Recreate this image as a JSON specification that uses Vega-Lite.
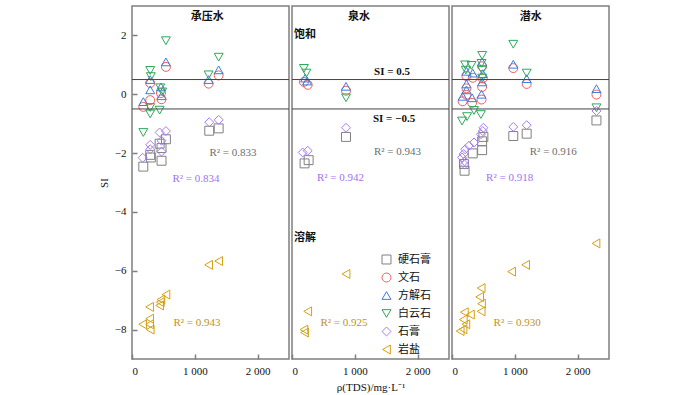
{
  "$schema": "https://vega.github.io/schema/vega-lite/v6.json",
  "padding": {"left": 97, "top": 5, "right": 0, "bottom": 0},
  "background": "white",
  "bounds": "flush",
  "datasets": {
    "p1": [
      {"m":"硬石膏","x":180,"y":-2.46},{"m":"硬石膏","x":290,"y":-2.06},{"m":"硬石膏","x":300,"y":-2.15},{"m":"硬石膏","x":440,"y":-1.68},{"m":"硬石膏","x":470,"y":-1.83},{"m":"硬石膏","x":470,"y":-2.26},{"m":"硬石膏","x":540,"y":-1.53},{"m":"硬石膏","x":1230,"y":-1.24},{"m":"硬石膏","x":1380,"y":-1.16},
      {"m":"文石","x":180,"y":-0.43},{"m":"文石","x":290,"y":0.38},{"m":"文石","x":290,"y":-0.2},{"m":"文石","x":460,"y":0.04},{"m":"文石","x":470,"y":-0.17},{"m":"文石","x":540,"y":0.93},{"m":"文石","x":1220,"y":0.36},{"m":"文石","x":1380,"y":0.64},
      {"m":"方解石","x":180,"y":-0.25},{"m":"方解石","x":290,"y":0.5},{"m":"方解石","x":290,"y":0.15},{"m":"方解石","x":460,"y":0.25},{"m":"方解石","x":470,"y":-0.05},{"m":"方解石","x":540,"y":1.1},{"m":"方解石","x":1220,"y":0.5},{"m":"方解石","x":1380,"y":0.83},
      {"m":"白云石","x":180,"y":-1.3},{"m":"白云石","x":290,"y":0.81},{"m":"白云石","x":300,"y":0.6},{"m":"白云石","x":290,"y":-0.45},{"m":"白云石","x":290,"y":-0.67},{"m":"白云石","x":440,"y":-0.54},{"m":"白云石","x":450,"y":0.22},{"m":"白云石","x":480,"y":0.08},{"m":"白云石","x":540,"y":1.82},{"m":"白云石","x":1220,"y":0.66},{"m":"白云石","x":1380,"y":1.26},
      {"m":"石膏","x":170,"y":-2.16},{"m":"石膏","x":290,"y":-1.72},{"m":"石膏","x":290,"y":-1.87},{"m":"石膏","x":440,"y":-1.3},{"m":"石膏","x":470,"y":-1.58},{"m":"石膏","x":470,"y":-1.95},{"m":"石膏","x":540,"y":-1.25},{"m":"石膏","x":1230,"y":-0.95},{"m":"石膏","x":1380,"y":-0.87},
      {"m":"岩盐","x":170,"y":-7.82},{"m":"岩盐","x":280,"y":-7.63},{"m":"岩盐","x":280,"y":-7.82},{"m":"岩盐","x":290,"y":-8.0},{"m":"岩盐","x":280,"y":-7.23},{"m":"岩盐","x":440,"y":-7.18},{"m":"岩盐","x":460,"y":-6.98},{"m":"岩盐","x":450,"y":-7.07},{"m":"岩盐","x":540,"y":-6.81},{"m":"岩盐","x":1220,"y":-5.8},{"m":"岩盐","x":1380,"y":-5.67}
    ],
    "p2": [
      {"m":"硬石膏","x":200,"y":-2.35},{"m":"硬石膏","x":265,"y":-2.24},{"m":"硬石膏","x":860,"y":-1.45},
      {"m":"文石","x":190,"y":0.42},{"m":"文石","x":250,"y":0.32},{"m":"文石","x":860,"y":0.12},
      {"m":"方解石","x":210,"y":0.55},{"m":"方解石","x":240,"y":0.45},{"m":"方解石","x":860,"y":0.27},
      {"m":"白云石","x":190,"y":0.88},{"m":"白云石","x":230,"y":0.72},{"m":"白云石","x":860,"y":-0.12},
      {"m":"石膏","x":170,"y":-1.98},{"m":"石膏","x":250,"y":-1.92},{"m":"石膏","x":860,"y":-1.14},
      {"m":"岩盐","x":190,"y":-8.0},{"m":"岩盐","x":200,"y":-8.1},{"m":"岩盐","x":250,"y":-7.38},{"m":"岩盐","x":860,"y":-6.11}
    ],
    "p3": [
      {"m":"硬石膏","x":200,"y":-2.6},{"m":"硬石膏","x":190,"y":-2.37},{"m":"硬石膏","x":330,"y":-2.01},{"m":"硬石膏","x":480,"y":-1.9},{"m":"硬石膏","x":480,"y":-1.6},{"m":"硬石膏","x":500,"y":-1.45},{"m":"硬石膏","x":976,"y":-1.42},{"m":"硬石膏","x":1189,"y":-1.34},{"m":"硬石膏","x":2300,"y":-0.89},
      {"m":"文石","x":170,"y":-0.24},{"m":"文石","x":230,"y":-0.02},{"m":"文石","x":230,"y":0.2},{"m":"文石","x":230,"y":0.62},{"m":"文石","x":320,"y":-0.29},{"m":"文石","x":330,"y":0.56},{"m":"文石","x":470,"y":-0.18},{"m":"文石","x":480,"y":0.25},{"m":"文石","x":480,"y":0.95},{"m":"文石","x":490,"y":0.54},{"m":"文石","x":976,"y":0.89},{"m":"文石","x":1189,"y":0.35},{"m":"文石","x":2300,"y":-0.01},
      {"m":"方解石","x":170,"y":-0.07},{"m":"方解石","x":230,"y":0.15},{"m":"方解石","x":230,"y":0.35},{"m":"方解石","x":230,"y":0.78},{"m":"方解石","x":320,"y":-0.12},{"m":"方解石","x":330,"y":0.72},{"m":"方解石","x":470,"y":0.0},{"m":"方解石","x":480,"y":0.42},{"m":"方解石","x":480,"y":1.1},{"m":"方解石","x":490,"y":0.7},{"m":"方解石","x":976,"y":1.02},{"m":"方解石","x":1189,"y":0.53},{"m":"方解石","x":2300,"y":0.19},
      {"m":"白云石","x":160,"y":-0.91},{"m":"白云石","x":210,"y":1.0},{"m":"白云石","x":220,"y":0.82},{"m":"白云石","x":240,"y":-0.76},{"m":"白云石","x":310,"y":0.98},{"m":"白云石","x":350,"y":-0.55},{"m":"白云石","x":460,"y":-0.69},{"m":"白云石","x":470,"y":1.05},{"m":"白云石","x":480,"y":1.32},{"m":"白云石","x":480,"y":0.82},{"m":"白云石","x":480,"y":0.55},{"m":"白云石","x":976,"y":1.7},{"m":"白云石","x":1189,"y":0.72},{"m":"白云石","x":2300,"y":-0.46},
      {"m":"石膏","x":160,"y":-2.15},{"m":"石膏","x":185,"y":-2.03},{"m":"石膏","x":200,"y":-2.28},{"m":"石膏","x":200,"y":-2.39},{"m":"石膏","x":210,"y":-1.87},{"m":"石膏","x":270,"y":-1.75},{"m":"石膏","x":350,"y":-1.64},{"m":"石膏","x":460,"y":-1.36},{"m":"石膏","x":490,"y":-1.25},{"m":"石膏","x":500,"y":-1.14},{"m":"石膏","x":976,"y":-1.11},{"m":"石膏","x":1189,"y":-1.05},{"m":"石膏","x":2300,"y":-0.57},
      {"m":"岩盐","x":130,"y":-8.05},{"m":"岩盐","x":175,"y":-7.99},{"m":"岩盐","x":220,"y":-7.82},{"m":"岩盐","x":180,"y":-7.66},{"m":"岩盐","x":197,"y":-7.41},{"m":"岩盐","x":293,"y":-7.49},{"m":"岩盐","x":464,"y":-7.38},{"m":"岩盐","x":470,"y":-7.12},{"m":"岩盐","x":440,"y":-6.89},{"m":"岩盐","x":464,"y":-6.59},{"m":"岩盐","x":949,"y":-6.03},{"m":"岩盐","x":1173,"y":-5.8},{"m":"岩盐","x":2293,"y":-5.07}
    ],
    "si": [{"y":0.5},{"y":-0.5}]
  },
  "resolve": {"scale": {"color": "shared", "shape": "shared"}, "legend": {"color": "shared", "shape": "shared"}},
  "spacing": 3,
  "hconcat": [
    {
      "width": 157, "height": 353,
      "layer": [
        {"data": {"name": "p1"}, "mark": {"type": "point", "filled": false, "size": 80, "strokeWidth": 1, "opacity": 1},
         "encoding": {
           "x": {"field": "x", "type": "quantitative", "scale": {"domain": [0, 2500], "nice": false, "zero": false}, "axis": {"title": null, "values": [0, 1000, 2000]}},
           "y": {"field": "y", "type": "quantitative", "scale": {"domain": [-9, 3], "nice": false}, "axis": {"title": "SI", "values": [-8, -6, -4, -2, 0, 2]}},
           "color": {"field": "m", "type": "nominal", "scale": {"domain": ["硬石膏","文石","方解石","白云石","石膏","岩盐"], "range": ["#808080","#f25c5c","#3b7ddd","#2ea85a","#a67cf0","#d4a017"]}, "legend": {"title": null, "symbolFillColor": "transparent"}},
           "shape": {"field": "m", "type": "nominal", "scale": {"domain": ["硬石膏","文石","方解石","白云石","石膏","岩盐"], "range": ["square","circle","triangle-up","triangle-down","diamond","triangle-left"]}, "legend": {"title": null, "symbolFillColor": "transparent"}}
         }},
        {"data": {"name": "si"}, "mark": {"type": "rule", "color": "#444", "strokeWidth": 1},
         "encoding": {"y": {"field": "y", "type": "quantitative", "axis": {"title": "SI", "values": [-8, -6, -4, -2, 0, 2]}}}},
        {"data": {"values": [{"t":"R² = 0.833","x":1608,"y":-1.99}]},
         "mark": {"type": "text", "font": "Liberation Serif", "fontSize": 11, "color": "#6e6e6e"},
         "encoding": {"x": {"field": "x", "type": "quantitative", "axis": {"title": null, "values": [0, 1000, 2000]}}, "y": {"field": "y", "type": "quantitative", "axis": {"title": "SI", "values": [-8, -6, -4, -2, 0, 2]}}, "text": {"field": "t"}}},
        {"data": {"values": [{"t":"R² = 0.834","x":1019,"y":-2.87}]},
         "mark": {"type": "text", "font": "Liberation Serif", "fontSize": 11, "color": "#a072f0"},
         "encoding": {"x": {"field": "x", "type": "quantitative", "axis": {"title": null, "values": [0, 1000, 2000]}}, "y": {"field": "y", "type": "quantitative", "axis": {"title": "SI", "values": [-8, -6, -4, -2, 0, 2]}}, "text": {"field": "t"}}},
        {"data": {"values": [{"t":"R² = 0.943","x":1035,"y":-7.79}]},
         "mark": {"type": "text", "font": "Liberation Serif", "fontSize": 11, "color": "#bf9220"},
         "encoding": {"x": {"field": "x", "type": "quantitative", "axis": {"title": null, "values": [0, 1000, 2000]}}, "y": {"field": "y", "type": "quantitative", "axis": {"title": "SI", "values": [-8, -6, -4, -2, 0, 2]}}, "text": {"field": "t"}}},
        {"data": {"values": [{"t":"承压水","x":1200,"y":2.63}]},
         "mark": {"type": "text", "font": "Noto Sans CJK SC", "fontSize": 11, "fontWeight": "bold", "color": "#111"},
         "encoding": {"x": {"field": "x", "type": "quantitative", "axis": {"title": null, "values": [0, 1000, 2000]}}, "y": {"field": "y", "type": "quantitative", "axis": {"title": "SI", "values": [-8, -6, -4, -2, 0, 2]}}, "text": {"field": "t"}}}
      ]
    },
    {
      "width": 157, "height": 353,
      "layer": [
        {"data": {"name": "p2"}, "mark": {"type": "point", "filled": false, "size": 80, "strokeWidth": 1, "opacity": 1},
         "encoding": {
           "x": {"field": "x", "type": "quantitative", "scale": {"domain": [0, 2500], "nice": false, "zero": false}, "axis": {"title": "ρ(TDS)/mg·L⁻¹", "values": [0, 1000, 2000]}},
           "y": {"field": "y", "type": "quantitative", "scale": {"domain": [-9, 3], "nice": false}, "axis": null},
           "color": {"field": "m", "type": "nominal", "legend": {"title": null, "symbolFillColor": "transparent"}},
           "shape": {"field": "m", "type": "nominal", "legend": {"title": null, "symbolFillColor": "transparent"}}
         }},
        {"data": {"name": "si"}, "mark": {"type": "rule", "color": "#444", "strokeWidth": 1},
         "encoding": {"y": {"field": "y", "type": "quantitative", "axis": null}}},
        {"data": {"values": [{"t":"R² = 0.943","x":1680,"y":-1.98}]},
         "mark": {"type": "text", "font": "Liberation Serif", "fontSize": 11, "color": "#6e6e6e"},
         "encoding": {"x": {"field": "x", "type": "quantitative", "axis": {"title": "ρ(TDS)/mg·L⁻¹", "values": [0, 1000, 2000]}}, "y": {"field": "y", "type": "quantitative", "axis": null}, "text": {"field": "t"}}},
        {"data": {"values": [{"t":"R² = 0.942","x":772,"y":-2.86}]},
         "mark": {"type": "text", "font": "Liberation Serif", "fontSize": 11, "color": "#a072f0"},
         "encoding": {"x": {"field": "x", "type": "quantitative", "axis": {"title": "ρ(TDS)/mg·L⁻¹", "values": [0, 1000, 2000]}}, "y": {"field": "y", "type": "quantitative", "axis": null}, "text": {"field": "t"}}},
        {"data": {"values": [{"t":"R² = 0.925","x":828,"y":-7.79}]},
         "mark": {"type": "text", "font": "Liberation Serif", "fontSize": 11, "color": "#bf9220"},
         "encoding": {"x": {"field": "x", "type": "quantitative", "axis": {"title": "ρ(TDS)/mg·L⁻¹", "values": [0, 1000, 2000]}}, "y": {"field": "y", "type": "quantitative", "axis": null}, "text": {"field": "t"}}},
        {"data": {"values": [{"t":"泉水","x":1067,"y":2.63}]},
         "mark": {"type": "text", "font": "Noto Sans CJK SC", "fontSize": 11, "fontWeight": "bold", "color": "#111"},
         "encoding": {"x": {"field": "x", "type": "quantitative", "axis": {"title": "ρ(TDS)/mg·L⁻¹", "values": [0, 1000, 2000]}}, "y": {"field": "y", "type": "quantitative", "axis": null}, "text": {"field": "t"}}},
        {"data": {"values": [{"t":"饱和","x":32,"y":2.03},{"t":"溶解","x":32,"y":-4.89}]},
         "mark": {"type": "text", "font": "Noto Sans CJK SC", "fontSize": 11, "fontWeight": "bold", "align": "left", "color": "#111"},
         "encoding": {"x": {"field": "x", "type": "quantitative", "axis": {"title": "ρ(TDS)/mg·L⁻¹", "values": [0, 1000, 2000]}}, "y": {"field": "y", "type": "quantitative", "axis": null}, "text": {"field": "t"}}},
        {"data": {"values": [{"t":"SI = 0.5","x":1592,"y":0.75},{"t":"SI = −0.5","x":1625,"y":-0.85}]},
         "mark": {"type": "text", "font": "Liberation Serif", "fontSize": 11, "fontWeight": "bold", "color": "#111"},
         "encoding": {"x": {"field": "x", "type": "quantitative", "axis": {"title": "ρ(TDS)/mg·L⁻¹", "values": [0, 1000, 2000]}}, "y": {"field": "y", "type": "quantitative", "axis": null}, "text": {"field": "t"}}}
      ]
    },
    {
      "width": 157, "height": 353,
      "layer": [
        {"data": {"name": "p3"}, "mark": {"type": "point", "filled": false, "size": 80, "strokeWidth": 1, "opacity": 1},
         "encoding": {
           "x": {"field": "x", "type": "quantitative", "scale": {"domain": [0, 2500], "nice": false, "zero": false}, "axis": {"title": null, "values": [0, 1000, 2000]}},
           "y": {"field": "y", "type": "quantitative", "scale": {"domain": [-9, 3], "nice": false}, "axis": null},
           "color": {"field": "m", "type": "nominal", "legend": {"title": null, "symbolFillColor": "transparent"}},
           "shape": {"field": "m", "type": "nominal", "legend": {"title": null, "symbolFillColor": "transparent"}}
         }},
        {"data": {"name": "si"}, "mark": {"type": "rule", "color": "#444", "strokeWidth": 1},
         "encoding": {"y": {"field": "y", "type": "quantitative", "axis": null}}},
        {"data": {"values": [{"t":"R² = 0.916","x":1613,"y":-1.98}]},
         "mark": {"type": "text", "font": "Liberation Serif", "fontSize": 11, "color": "#6e6e6e"},
         "encoding": {"x": {"field": "x", "type": "quantitative", "axis": {"title": null, "values": [0, 1000, 2000]}}, "y": {"field": "y", "type": "quantitative", "axis": null}, "text": {"field": "t"}}},
        {"data": {"values": [{"t":"R² = 0.918","x":917,"y":-2.86}]},
         "mark": {"type": "text", "font": "Liberation Serif", "fontSize": 11, "color": "#a072f0"},
         "encoding": {"x": {"field": "x", "type": "quantitative", "axis": {"title": null, "values": [0, 1000, 2000]}}, "y": {"field": "y", "type": "quantitative", "axis": null}, "text": {"field": "t"}}},
        {"data": {"values": [{"t":"R² = 0.930","x":1037,"y":-7.79}]},
         "mark": {"type": "text", "font": "Liberation Serif", "fontSize": 11, "color": "#bf9220"},
         "encoding": {"x": {"field": "x", "type": "quantitative", "axis": {"title": null, "values": [0, 1000, 2000]}}, "y": {"field": "y", "type": "quantitative", "axis": null}, "text": {"field": "t"}}},
        {"data": {"values": [{"t":"潜水","x":1253,"y":2.63}]},
         "mark": {"type": "text", "font": "Noto Sans CJK SC", "fontSize": 11, "fontWeight": "bold", "color": "#111"},
         "encoding": {"x": {"field": "x", "type": "quantitative", "axis": {"title": null, "values": [0, 1000, 2000]}}, "y": {"field": "y", "type": "quantitative", "axis": null}, "text": {"field": "t"}}}
      ]
    }
  ],
  "config": {
    "font": "Liberation Serif",
    "view": {"stroke": "#7f7f7f", "strokeWidth": 1.5},
    "axis": {"domain": false, "grid": false, "tickSize": -5, "tickColor": "#7f7f7f", "tickWidth": 1.5, "labelFont": "Liberation Serif", "labelFontSize": 11, "labelColor": "#111", "labelPadding": 11, "titleFont": "Liberation Serif", "titleFontSize": 11, "titleFontWeight": "normal", "titleColor": "#111", "titlePadding": 5},
    "axisX": {"labelExpr": "replace(format(datum.value, ','), ',', ' ')"},
    "legend": {"orient": "none", "legendX": 249, "legendY": 248, "labelFont": "Noto Sans CJK SC", "labelFontSize": 11, "labelColor": "#111", "symbolSize": 80, "symbolStrokeWidth": 1, "symbolFillColor": "transparent", "rowPadding": 5, "labelOffset": 6, "padding": 0}
  }
}
